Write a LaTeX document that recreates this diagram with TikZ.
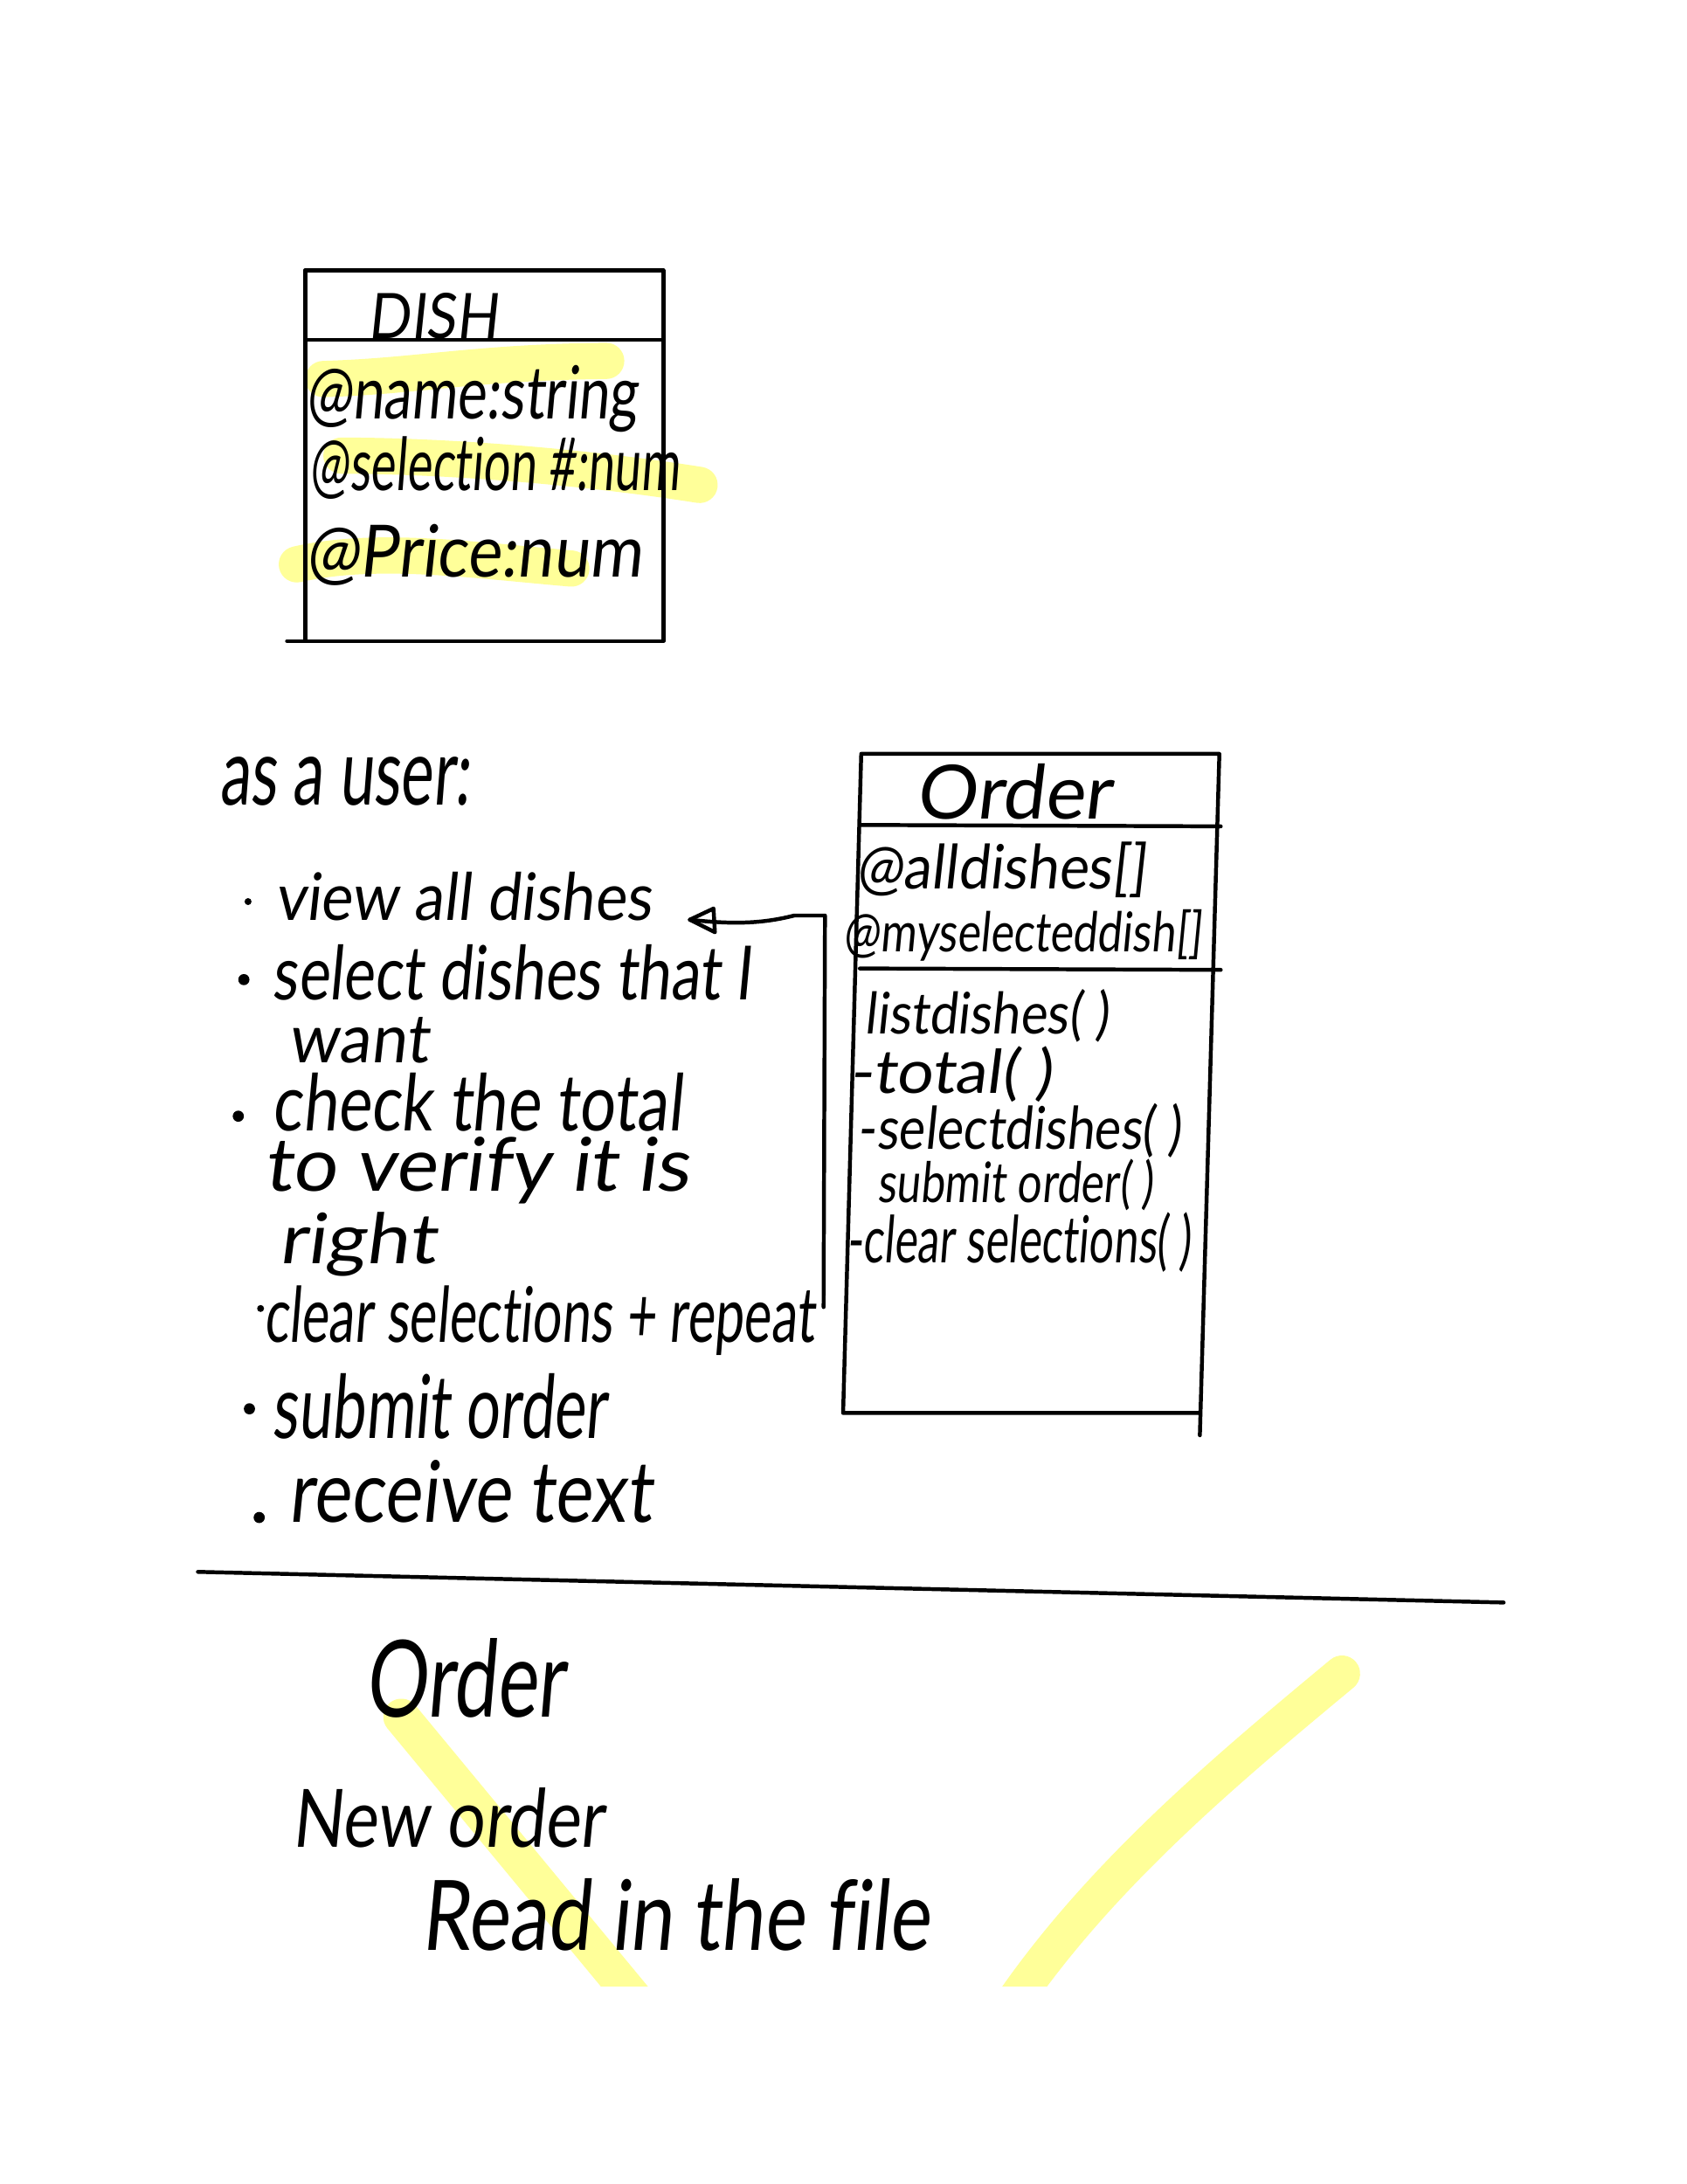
\documentclass[tikz,border=0pt]{standalone}
\usepackage{fontspec}
\setmainfont{Lato}[FakeSlant=0.12,Ligatures=NoCommon]
\usetikzlibrary{arrows.meta}
\definecolor{hl}{HTML}{FFFF99}
\tikzset{
  hand/.style={inner sep=0pt,outer sep=0pt,anchor=north west,text=black},
  pen/.style={draw=black,line width=2.8pt,line cap=round,line join=round},
  marker/.style={draw=hl,line width=26pt,line cap=round,line join=round},
  dotb/.style={circle,fill=black,inner sep=0pt,minimum size=8pt}
}
\newcommand\hw[6]{\pgfmathsetmacro\hww{#3-#2}\pgfmathsetmacro\hhh{#5-#4}\pgfmathsetmacro\hxx{#2-2.5}%
  \node[hand] (#1) at (\hxx,#4) {\resizebox*{\hww pt}{\hhh pt}{#6}};}
\begin{document}
\begin{tikzpicture}[x=1pt,y=-1pt]
\useasboundingbox (0,0) rectangle (1210.5,1567.3);
\fill[white] (0,0) rectangle (1210.5,1567.3);
% highlights
\draw[marker] (232,272) .. controls (300,270) and (340,260) .. (435,259);
\draw[marker] (245,327) .. controls (320,327) and (420,335) .. (502,348);
\draw[marker] (213,405) .. controls (270,392) and (340,402) .. (410,408);
\begin{scope}
\clip (0,0) rectangle (1210.5,1425);
\draw[marker] (288,1232) -- (460,1440);
\draw[marker] (963,1201) .. controls (880,1270) and (790,1345) .. (725,1440);
\end{scope}
% DISH box
\coordinate (dtl) at (219,194); \coordinate (dtr) at (476,194);
\coordinate (dbr) at (476,460); \coordinate (dbl) at (219,460);
\coordinate (dml) at (219,244); \coordinate (dmr) at (476,244);
\coordinate (dbx) at (206,460);
\draw[pen] (dtl) -- (dtr) -- (dbr) -- (dbx);
\draw[pen] (dtl) -- (dbl);
\draw[pen] (dml) -- (dmr);
% Order box
\coordinate (otl) at (618,541); \coordinate (otr) at (875,541);
\coordinate (orb) at (861,1030); \coordinate (obr) at (861,1014);
\coordinate (obl) at (605,1014);
\coordinate (om1l) at (617,592); \coordinate (om1r) at (876,593);
\coordinate (om2l) at (617,695); \coordinate (om2r) at (876,696);
\draw[pen] (obr) -- (obl) -- (otl) -- (otr) -- (orb);
\draw[pen] (om1l) -- (om1r);
\draw[pen] (om2l) -- (om2r);
% separator
\coordinate (sepa) at (142,1128); \coordinate (sepb) at (1079,1150);
\draw[pen] (sepa) -- (sepb);
% bracket and arrow
\coordinate (brb) at (591,938); \coordinate (brt) at (592,657);
\coordinate (tip) at (495,660); \coordinate (ah1) at (512,652); \coordinate (ah2) at (513,669);
\draw[pen] (brb) -- (brt) -- (570,657) .. controls (550,662) and (530,664) .. (tip);
\draw[pen] (ah1) -- (tip) -- (ah2) -- (512,652);
% text
\hw{dish}{267}{360}{210}{243}{DISH}
\hw{dname}{222}{460}{262}{310}{@name:string}
\hw{dsel}{225}{490}{313}{358}{@selection \#:num}
\hw{dprice}{222}{463}{376}{420}{@Price:num}
\hw{asuser}{160}{340}{543}{578}{as a user:}
\node[dotb,minimum size=5pt] (b1) at (178,647) {};
\node[dotb] (b2) at (175,703) {};
\node[dotb] (b3) at (171,801) {};
\node[dotb,minimum size=5pt] (b4) at (187,939) {};
\node[dotb] (b5) at (179,1011) {};
\node[dotb] (b6) at (186,1089) {};
\hw{t1}{200}{470}{626}{661}{view all dishes}
\hw{t2}{198}{542}{678}{718}{select dishes that I}
\hw{t2b}{210}{310}{730}{763}{want}
\hw{t3}{198}{492}{770}{812}{check the total}
\hw{t3b}{192}{497}{816}{864}{to verify it is}
\hw{t3c}{203}{315}{870}{916}{right}
\hw{t4}{192}{587}{923}{973}{clear selections + repeat}
\hw{t5}{198}{438}{986}{1033}{submit order}
\hw{t6}{210}{470}{1048}{1093}{receive text}
\hw{otitle}{660}{800}{548}{588}{Order}
\hw{oa}{617}{825}{604}{644}{@alldishes[]}
\hw{ob}{608}{865}{653}{690}{@myselecteddish[]}
\hw{oc}{623}{798}{710}{748}{listdishes( )}
\hw{od}{612}{757}{751}{791}{-total( )}
\hw{oe}{618}{850}{792}{831}{-selectdishes( )}
\hw{of}{632}{830}{832}{869}{submit order( )}
\hw{og}{610}{857}{870}{913}{-clear selections( )}
\hw{n1}{265}{408}{1176}{1233}{Order}
\hw{n2}{212}{436}{1283}{1326}{New order}
\hw{n3}{305}{670}{1348}{1400}{Read in the file}
\end{tikzpicture}
\end{document}
